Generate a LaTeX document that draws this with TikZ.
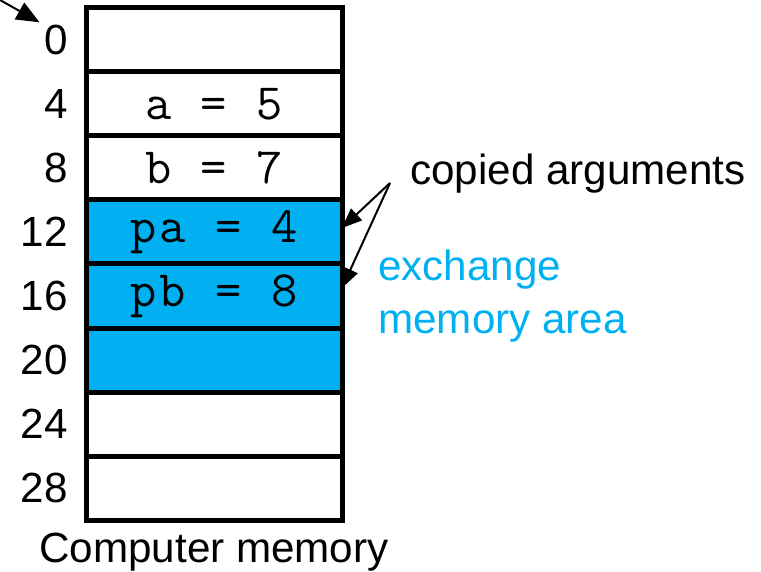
\documentclass[tikz,border=0pt]{standalone}
\usepackage{fontspec}
\setmainfont{Liberation Sans}
\newfontfamily\codefont{Latin Modern Mono}[LetterSpace=6]
\usetikzlibrary{positioning,arrows.meta}

\definecolor{xcyan}{RGB}{0,176,240}

\tikzset{
    cell/.style={draw,line width=0.1cm,minimum width=5.12cm,minimum height=1.28cm,
                 outer sep=0pt,inner sep=0pt,font=\fontsize{29}{32}\codefont},
    shared/.style={cell,fill=xcyan},
    addr/.style={anchor=east,inner sep=0pt,font=\fontsize{24}{28}\selectfont},
    note/.style={inner sep=0pt,font=\fontsize{24}{30}\selectfont},
    pointer/.style={-{Triangle[length=0.4cm,width=0.32cm]},line width=0.04cm}
}

\begin{document}
\begin{tikzpicture}
    \useasboundingbox (0,0) rectangle (15.22,-11.44);
    % memory cells
    \node[cell]   (m0)  at (4.28,-0.8)       {};
    \node[cell]   (m4)  [below=0pt of m0]    {a = 5};
    \node[cell]   (m8)  [below=0pt of m4]    {b = 7};
    \node[shared] (m12) [below=0pt of m8]    {pa = 4};
    \node[shared] (m16) [below=0pt of m12]   {pb = 8};
    \node[shared] (m20) [below=0pt of m16]   {};
    \node[cell]   (m24) [below=0pt of m20]   {};
    \node[cell]   (m28) [below=0pt of m24]   {};
    % addresses
    \foreach \a in {0,4,...,28}
        \node[addr] (l\a) at ([xshift=-0.36cm]m\a.west) {\a};
    \node[note] (title) [below=0.26cm of m28] {Computer memory};
    % notes
    \node[note,anchor=base west] (args) at (8.2,-3.7) {copied arguments};
    \node[note,anchor=north west,align=left,text=xcyan] (xarea) at (7.56,-5.0)
        {exchange\\memory area};
    \coordinate (fork) at (7.8,-3.66);
    \coordinate (start) at (0,0);
    \draw[pointer] (fork) -- ([yshift=0.08cm]m12.east);
    \draw[pointer] (fork) -- ([yshift=0.16cm]m16.east);
    \draw[pointer,-{Triangle[length=0.46cm,width=0.38cm]},shorten >=0.1cm] (start) -- (l0.north west);
\end{tikzpicture}
\end{document}
